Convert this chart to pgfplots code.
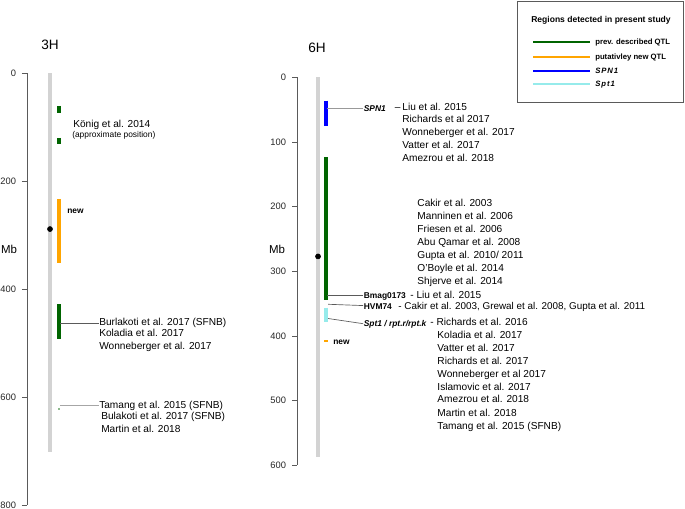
\documentclass[border=0pt]{standalone}
\usepackage{fontspec}
\setmainfont{Liberation Sans}
\usepackage{pgfplots}
\pgfplotsset{compat=1.18}
\definecolor{qtlgreen}{RGB}{0,100,0}
\definecolor{qtlorange}{RGB}{255,165,0}
\definecolor{qtlblue}{RGB}{0,0,255}
\definecolor{qtlcyan}{RGB}{150,235,235}
\definecolor{chromgray}{RGB}{211,211,211}
\definecolor{axisgray}{RGB}{90,90,90}
\tikzset{
  ref/.style={anchor=west, inner sep=0pt, text height=5.4pt, text depth=0pt, font=\fontsize{7.6}{9}\selectfont},
  lab/.style={anchor=west, inner sep=0pt, text height=4.6pt, text depth=0pt, font=\fontsize{6.3}{7.5}\selectfont\bfseries},
  sml/.style={anchor=west, inner sep=0pt, text height=4.5pt, text depth=0pt, font=\fontsize{6.3}{7.5}\selectfont},
}
\pgfplotsset{
  chrom/.style={
    scale only axis, clip=false,
    axis x line=none, axis y line*=left,
    axis line style={-, axisgray, line width=0.6pt},
    y dir=reverse,
    tick align=outside, major tick length=3.75pt,
    tick style={axisgray, line width=0.6pt},
    yticklabel style={font=\fontsize{7}{8}\selectfont, text=black!85, xshift=-1pt},
    /pgf/number format/assume math mode=true,
  },
  bar/.style={no marks, line width=2.75pt, line cap=butt},
}
\begin{document}
\begin{tikzpicture}
\useasboundingbox (0,0) rectangle (513.75pt,-381.75pt);
% ---------------- 3H ----------------
\begin{axis}[chrom,
  at={(20.25pt,-54.75pt)}, anchor=north west,
  width=174.75pt, height=324pt,
  xmin=27, xmax=260, ymin=0, ymax=800,
  ytick={0,200,400,600,800},
]
\addplot[bar, draw=chromgray] coordinates {(50,0) (50,702)};
\addplot[only marks, mark=*, mark size=1.9pt, black] coordinates {(50,289)};
\addplot[bar, draw=qtlgreen] coordinates {(59,61) (59,74)};
\addplot[bar, draw=qtlgreen] coordinates {(59,120) (59,131)};
\addplot[bar, draw=qtlorange] coordinates {(59,233) (59,351)};
\addplot[bar, draw=qtlgreen] coordinates {(59,428) (59,493)};
\addplot[bar, draw=qtlgreen!45, line width=1.2pt] coordinates {(59,621) (59,623.5)};
\addplot[no marks, draw=axisgray, line width=0.5pt] coordinates {(60,463) (99,463)};
\addplot[no marks, draw=gray!70, line width=0.5pt] coordinates {(60,615) (99,615)};
\node[font=\fontsize{10.2}{12}\selectfont] at (axis cs:50,-52) {3H};
\node[font=\fontsize{8.6}{10}\selectfont] at (axis cs:9,326) {Mb};
\node[ref] at (axis cs:73,94.4) {König et al. 2014};
\node[sml] at (axis cs:72,113) {(approximate position)};
\node[lab] at (axis cs:67,253.7) {new};
\node[ref] at (axis cs:99,461) {Burlakoti et al. 2017 (SFNB)};
\node[ref] at (axis cs:99,481) {Koladia et al. 2017};
\node[ref] at (axis cs:99,505.5) {Wonneberger et al. 2017};
\node[ref] at (axis cs:99,615) {Tamang et al. 2015 (SFNB)};
\node[ref] at (axis cs:101,635) {Bulakoti et al. 2017 (SFNB)};
\node[ref] at (axis cs:101,659) {Martin et al. 2018};
\end{axis}
% ---------------- 6H ----------------
\begin{axis}[chrom,
  at={(222.75pt,-57.975pt)}, anchor=north west,
  width=291pt, height=291pt,
  xmin=297, xmax=685, ymin=0, ymax=600,
  ytick={0,100,200,300,400,500,600},
]
\addplot[bar, draw=chromgray] coordinates {(318,0) (318,587)};
\addplot[only marks, mark=*, mark size=1.9pt, black] coordinates {(318,277)};
\addplot[bar, draw=qtlblue] coordinates {(326,36) (326,76)};
\addplot[bar, draw=qtlgreen] coordinates {(326,124) (326,345)};
\addplot[bar, draw=qtlcyan] coordinates {(326,356) (326,379)};
\addplot[bar, draw=qtlorange] coordinates {(326,406.5) (326,410)};
\addplot[no marks, draw=gray!80, line width=0.5pt] coordinates {(327,48) (363,48)};
\addplot[no marks, draw=axisgray, line width=0.5pt] coordinates {(327,337) (363,337)};
\addplot[no marks, draw=axisgray, line width=0.5pt] coordinates {(328,351) (363,353)};
\addplot[no marks, draw=axisgray, line width=0.5pt] coordinates {(328,373) (363,381)};
\node[font=\fontsize{10.2}{12}\selectfont] at (axis cs:317,-45) {6H};
\node[font=\fontsize{8.6}{10}\selectfont] at (axis cs:277,266) {Mb};
% SPN1 block
\node[lab] at (axis cs:363.5,48) {\textit{SPN1}};
\node[ref] at (axis cs:394.5,46.4) {–};
\node[ref] at (axis cs:402,46.4) {Liu et al. 2015};
\node[ref] at (axis cs:402,65) {Richards et al 2017};
\node[ref] at (axis cs:402,85) {Wonneberger et al. 2017};
\node[ref] at (axis cs:402,104) {Vatter et al. 2017};
\node[ref] at (axis cs:402,124) {Amezrou et al. 2018};
% QTL block
\node[ref] at (axis cs:417,195) {Cakir et al. 2003};
\node[ref] at (axis cs:417,215) {Manninen et al. 2006};
\node[ref] at (axis cs:417,235) {Friesen et al. 2006};
\node[ref] at (axis cs:417,255) {Abu Qamar et al. 2008};
\node[ref] at (axis cs:417,275) {Gupta et al. 2010/ 2011};
\node[ref] at (axis cs:417,295) {O'Boyle et al. 2014};
\node[ref] at (axis cs:417,315) {Shjerve et al. 2014};
% markers
\node[lab] at (axis cs:363.5,337) {Bmag0173};
\node[ref] at (axis cs:410,336) {- Liu et al. 2015};
\node[lab] at (axis cs:363.5,354) {HVM74};
\node[ref, font=\fontsize{7.4}{9}\selectfont] at (axis cs:398,353) {- Cakir et al. 2003, Grewal et al. 2008, Gupta et al. 2011};
\node[lab] at (axis cs:363.5,380) {\textit{Spt1 / rpt.r/rpt.k}};
\node[ref] at (axis cs:430,379) {- Richards et al. 2016};
\node[ref] at (axis cs:437,398) {Koladia et al. 2017};
\node[ref] at (axis cs:437,418) {Vatter et al. 2017};
\node[ref] at (axis cs:437,438) {Richards et al. 2017};
\node[ref] at (axis cs:437,458) {Wonneberger et al 2017};
\node[ref] at (axis cs:437,478) {Islamovic et al. 2017};
\node[ref] at (axis cs:437,498) {Amezrou et al. 2018};
\node[ref] at (axis cs:437,519) {Martin et al. 2018};
\node[ref] at (axis cs:437,539) {Tamang et al. 2015 (SFNB)};
\node[lab] at (axis cs:333,409) {new};
\end{axis}
% ---------------- legend ----------------
\draw[axisgray, line width=0.6pt] (387.75pt,-0.75pt) rectangle (512.25pt,-76.5pt);
\node[font=\fontsize{6.4}{8}\selectfont\bfseries, inner sep=0pt] at (450.75pt,-15pt) {Regions detected in present study};
\draw[qtlgreen, line width=1.6pt] (399.75pt,-31.5pt) -- (442.5pt,-31.5pt);
\draw[qtlorange, line width=1.6pt] (399.75pt,-42.75pt) -- (442.5pt,-42.75pt);
\draw[qtlblue, line width=1.6pt] (399.75pt,-53.25pt) -- (442.5pt,-53.25pt);
\draw[qtlcyan, line width=1.6pt] (399.75pt,-63pt) -- (442.5pt,-63pt);
\tikzset{leg/.style={anchor=west, inner sep=0pt, text height=4.2pt, text depth=0pt, font=\fontsize{5.8}{7}\selectfont\bfseries}}
\node[leg] at (446.25pt,-31.5pt) {prev. described QTL};
\node[leg] at (446.25pt,-42.75pt) {putativley new QTL};
\node[leg] at (446.25pt,-53.25pt) {\addfontfeatures{LetterSpace=12}\textit{SPN1}};
\node[leg] at (446.25pt,-63pt) {\addfontfeatures{LetterSpace=12}\textit{Spt1}};
\end{tikzpicture}
\end{document}
